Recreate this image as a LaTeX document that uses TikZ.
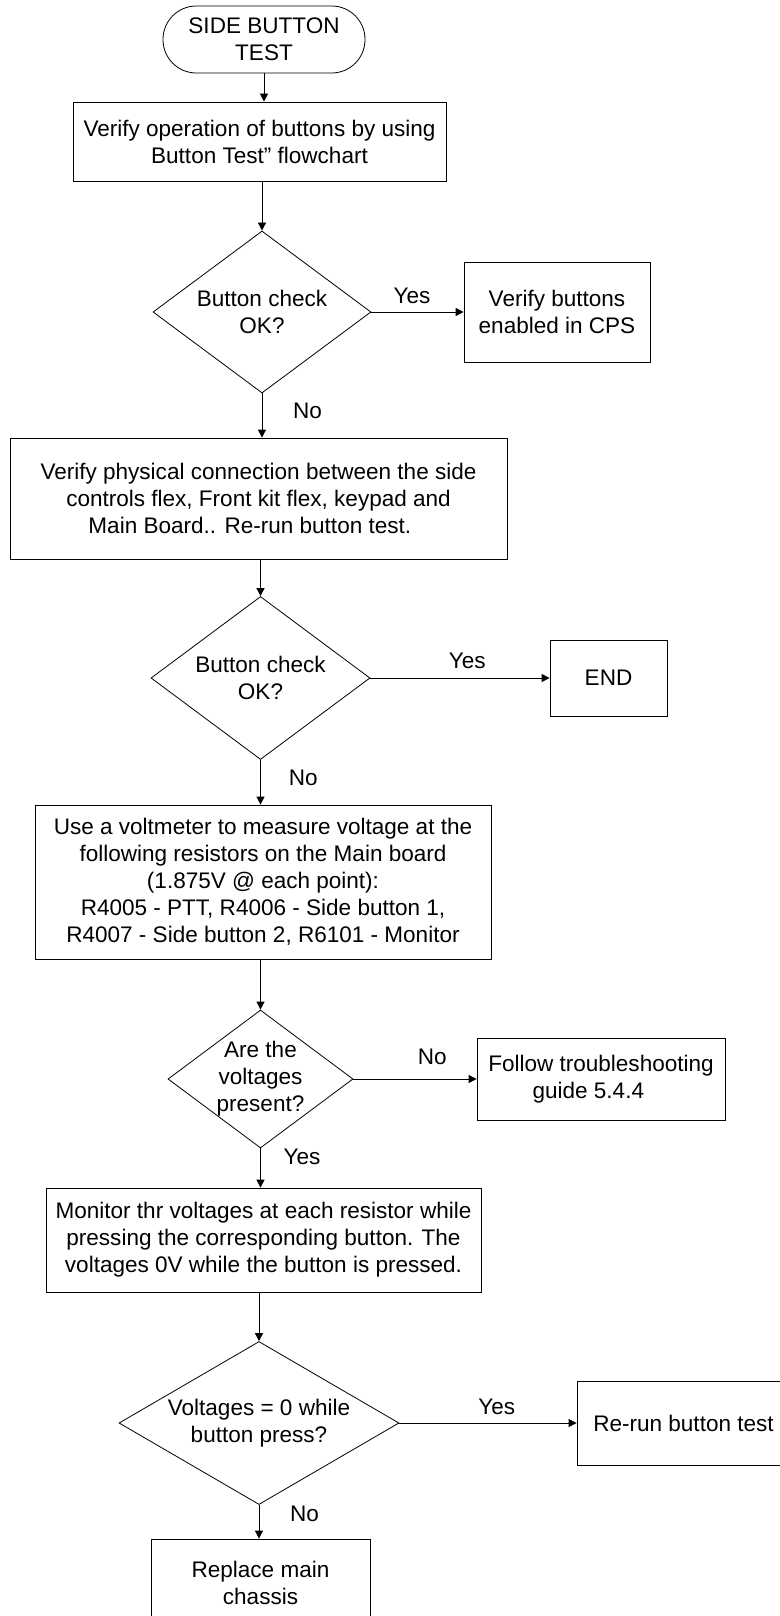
\documentclass[tikz,border=0pt]{standalone}
\usepackage{fontspec}
\setmainfont{Liberation Sans}
\usetikzlibrary{arrows.meta, positioning, shapes.geometric}

\begin{document}
\begin{tikzpicture}[x=0.75pt, y=-0.75pt,
    every node/.style={font=\fontsize{16.9}{20.2}\selectfont},
    proc/.style={draw, line width=0.6pt, align=center, inner sep=0pt},
    term/.style={proc, rounded corners=25pt},
    dec/.style={draw, diamond, line width=0.6pt, inner sep=0pt},
    lbl/.style={inner sep=0pt},
    arr/.style={-{Triangle[length=6pt, width=6pt]}, line width=0.6pt}]
  \path[use as bounding box, clip] (0,0) rectangle (780,1616);
  % main column
  \node[term, minimum width=151.5pt, minimum height=50.25pt] (st) at (264,39.5) {SIDE BUTTON\\TEST};
  \node[proc, minimum width=279.75pt, minimum height=59.25pt] (b1) at (259.5,141.5)
    {Verify operation of buttons by using\\Button Test” flowchart};
  \node[dec, minimum width=163.5pt, minimum height=121.5pt,
    label={[align=center]center:Button check\\OK?}] (q1) at (262,312) {};
  \node[proc, minimum width=372.75pt, minimum height=90.75pt] (b3) at (258.5,498.5)
    {Verify physical connection between the side\\controls flex, Front kit flex, keypad and\\Main Board.. Re-run button test.\hspace*{13pt}};
  \node[dec, minimum width=164.25pt, minimum height=122.25pt,
    label={[align=center]center:Button check\\OK?}] (q2) at (260.5,678) {};
  \node[proc, minimum width=342pt, minimum height=115.5pt] (b4) at (263,882)
    {Use a voltmeter to measure voltage at the\\following resistors on the Main board\\(1.875V @ each point):\hspace*{25pt}\\R4005 - PTT, R4006 - Side button 1,\\R4007 - Side button 2, R6101 - Monitor};
  \node[dec, minimum width=138.75pt, minimum height=103.5pt,
    label={[align=center]center:Are the\\voltages\\present?}] (q3) at (260.5,1079) {};
  \node[proc, minimum width=326.25pt, minimum height=78pt] (b6) at (263.5,1240)
    {Monitor thr voltages at each resistor while\\pressing the corresponding button. The\\voltages 0V while the button is pressed.};
  \node[dec, minimum width=210pt, minimum height=122.25pt,
    label={[align=center]center:Voltages = 0 while\\button press?}] (q4) at (259,1423) {};
  \node[proc, minimum width=164.25pt, minimum height=65.25pt] (rc) at (260.5,1582.5) {Replace main\\chassis};
  % side boxes
  \node[proc, minimum width=139.5pt, minimum height=75pt] (v1) at (557,312) {Verify buttons\\enabled in CPS};
  \node[proc, minimum width=87.75pt, minimum height=57pt] (fin) at (608.5,678) {END};
  \node[proc, minimum width=186pt, minimum height=61.5pt] (f5) at (601,1079)
    {Follow troubleshooting\\guide 5.4.4\hspace*{19pt}};
  \node[proc, minimum width=159.75pt, minimum height=63pt] (rr) at (683.5,1423) {Re-run button test};
  % connectors
  \draw[arr] (st) -- (st |- b1.north);
  \draw[arr] (q1 |- b1.south) -- (q1);
  \draw[arr] (q1) -- node[lbl, above=6pt, pos=.44] (y1) {Yes} (v1);
  \draw[arr] (q1) -- node[lbl, right=23pt, pos=.4] (n1) {No} (q1 |- b3.north);
  \draw[arr] (q2 |- b3.south) -- (q2);
  \draw[arr] (q2) -- node[lbl, above=6.5pt, pos=.54] (y2) {Yes} (fin);
  \draw[arr] (q2) -- node[lbl, right=21pt, pos=.4] (n2) {No} (q2 |- b4.north);
  \draw[arr] (q3 |- b4.south) -- (q3);
  \draw[arr] (q3) -- node[lbl, above=10.5pt, pos=.64] (n3) {No} (f5);
  \draw[arr] (q3) -- node[lbl, right=17pt, pos=.22] (y3) {Yes} (q3 |- b6.north);
  \draw[arr] (q4 |- b6.south) -- (q4);
  \draw[arr] (q4) -- node[lbl, above=6pt, pos=.55] (y4) {Yes} (rr);
  \draw[arr] (q4) -- node[lbl, right=23pt, pos=.26] (n4) {No} (q4 |- rc.north);
\end{tikzpicture}
\end{document}
